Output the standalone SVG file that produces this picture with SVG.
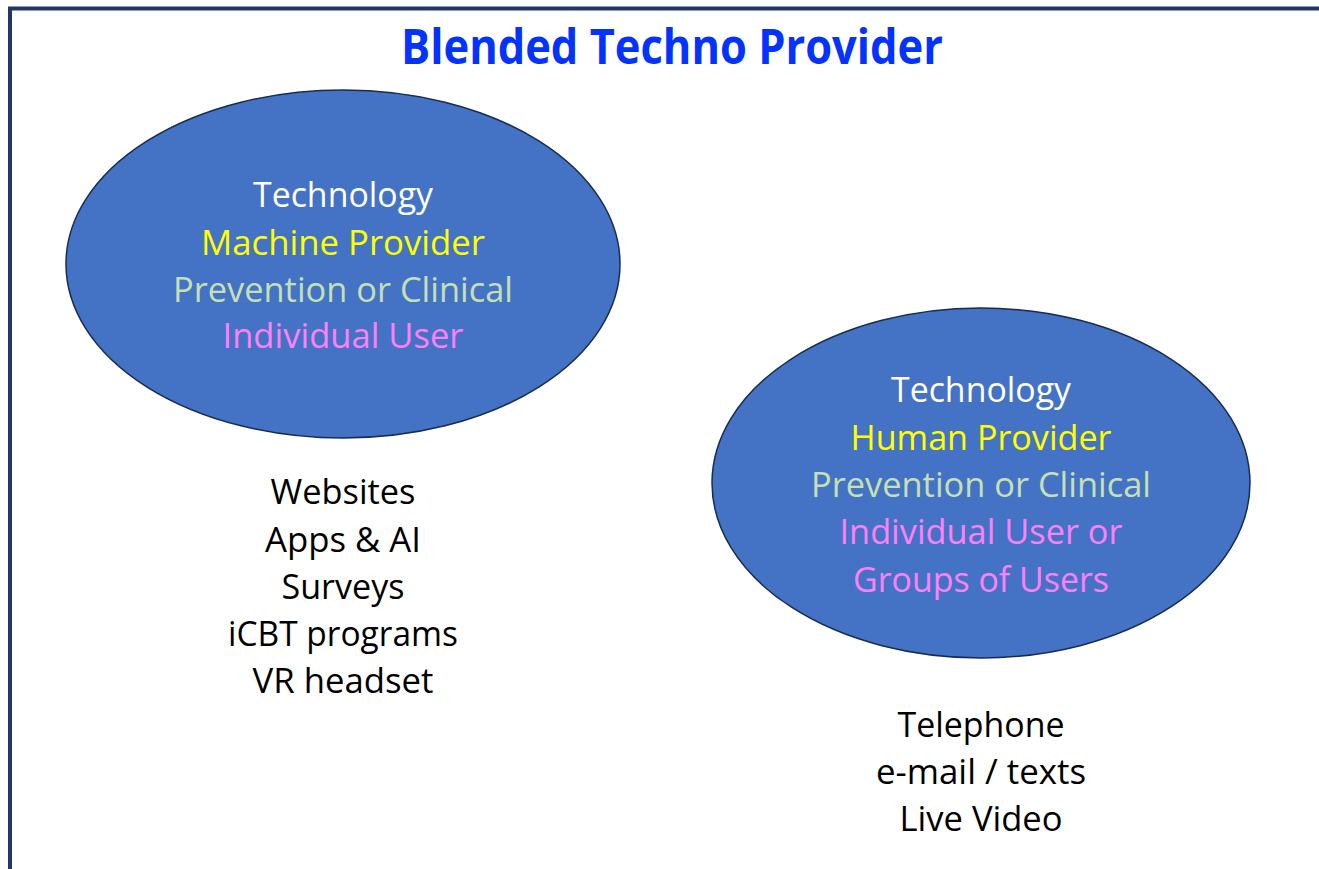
<svg xmlns="http://www.w3.org/2000/svg" width="1319" height="869" viewBox="0 0 1319 869">
  <style>
    .t { font-family: "Open Sans", "Noto Sans", sans-serif; font-size: 34px; text-anchor: middle; }
    .title { font-family: "Open Sans", "Noto Sans", sans-serif; font-size: 49px; font-weight: bold; fill: #0433FF; text-anchor: middle; }
    .oval { fill: #4472C4; stroke: #172C51; stroke-width: 1.5; }
    .w { fill: #FFFFFF; }
    .y { fill: #FFFF00; }
    .g { fill: #C5E0B4; }
    .p { fill: #FF80FF; }
    .k { fill: #000000; }
  </style>
  <rect x="0" y="0" width="1319" height="869" fill="#FFFFFF"/>
  <rect x="10" y="8.5" width="1400" height="900" fill="none" stroke="#1F3864" stroke-width="4"/>
  <g id="title">
    <text class="title" x="672" y="64" textLength="542" lengthAdjust="spacingAndGlyphs">Blended Techno Provider</text>
  </g>
  <g id="machine-provider">
    <ellipse class="oval" cx="343" cy="264" rx="277" ry="174"/>
    <text class="t w" x="343" y="207" textLength="180" lengthAdjust="spacingAndGlyphs">Technology</text>
    <text class="t y" x="343" y="255" textLength="284" lengthAdjust="spacingAndGlyphs">Machine Provider</text>
    <text class="t g" x="343" y="302" textLength="340" lengthAdjust="spacingAndGlyphs">Prevention or Clinical</text>
    <text class="t p" x="343" y="348" textLength="241" lengthAdjust="spacingAndGlyphs">Individual User</text>
  </g>
  <g id="machine-list">
    <text class="t k" x="343" y="504" textLength="145" lengthAdjust="spacingAndGlyphs">Websites</text>
    <text class="t k" x="343" y="551.5" textLength="156" lengthAdjust="spacingAndGlyphs">Apps &amp; AI</text>
    <text class="t k" x="343" y="598.5" textLength="123" lengthAdjust="spacingAndGlyphs">Surveys</text>
    <text class="t k" x="343" y="646" textLength="230" lengthAdjust="spacingAndGlyphs">iCBT programs</text>
    <text class="t k" x="343" y="693" textLength="181" lengthAdjust="spacingAndGlyphs">VR headset</text>
  </g>
  <g id="human-provider">
    <ellipse class="oval" cx="981" cy="483" rx="269" ry="175"/>
    <text class="t w" x="981" y="402" textLength="180" lengthAdjust="spacingAndGlyphs">Technology</text>
    <text class="t y" x="981" y="450" textLength="261" lengthAdjust="spacingAndGlyphs">Human Provider</text>
    <text class="t g" x="981" y="497" textLength="340" lengthAdjust="spacingAndGlyphs">Prevention or Clinical</text>
    <text class="t p" x="981" y="544" textLength="283" lengthAdjust="spacingAndGlyphs">Individual User or</text>
    <text class="t p" x="981" y="592" textLength="256" lengthAdjust="spacingAndGlyphs">Groups of Users</text>
  </g>
  <g id="human-list">
    <text class="t k" x="981" y="737" textLength="167" lengthAdjust="spacingAndGlyphs">Telephone</text>
    <text class="t k" x="981" y="784" textLength="210" lengthAdjust="spacingAndGlyphs">e-mail / texts</text>
    <text class="t k" x="981" y="831" textLength="163" lengthAdjust="spacingAndGlyphs">Live Video</text>
  </g>
  <g id="connectors"></g>
</svg>
